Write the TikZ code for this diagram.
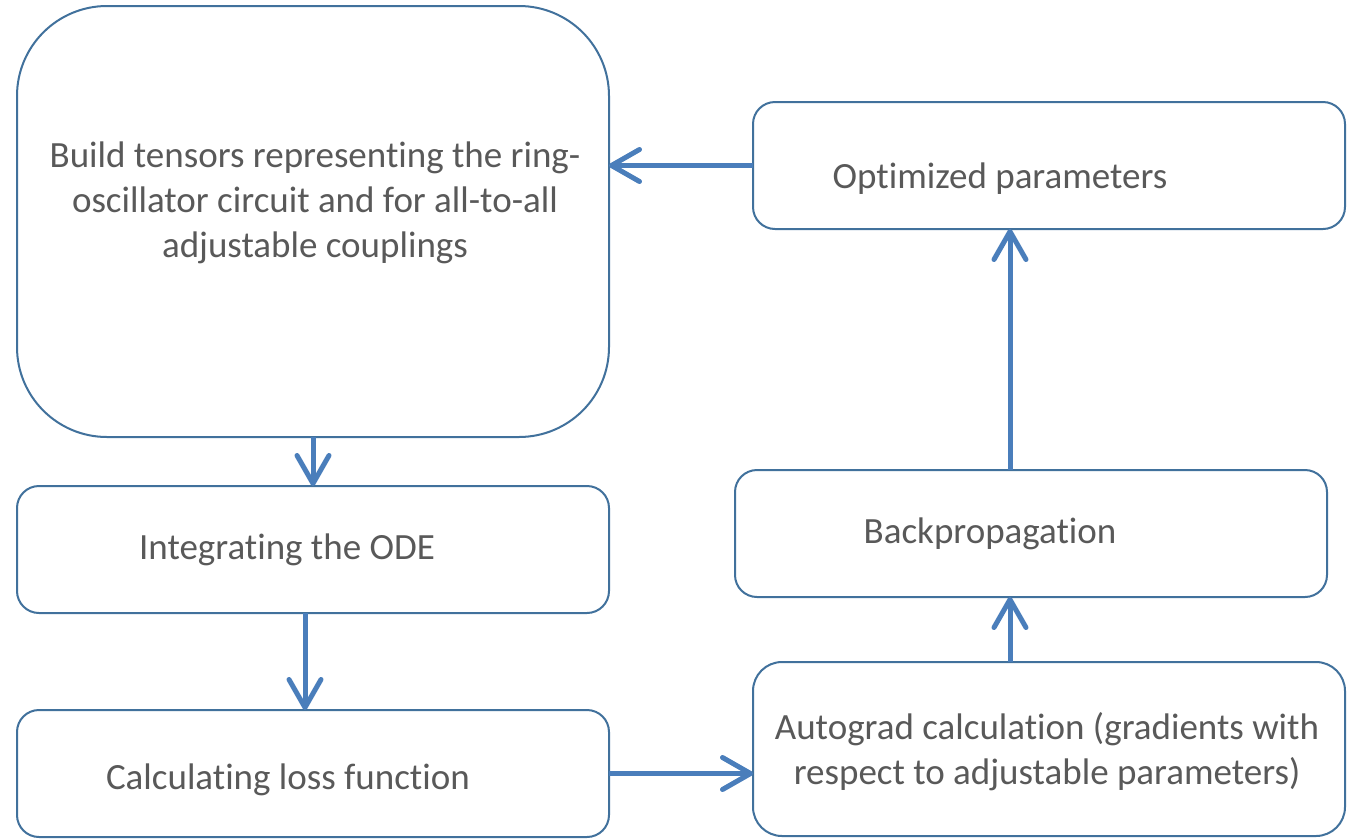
\documentclass[tikz,border=0pt]{standalone}
\usepackage{fontspec}
\setmainfont{Carlito}[Ligatures=NoCommon]
\usetikzlibrary{arrows.meta,calc}
\definecolor{boxline}{RGB}{65,113,156}
\definecolor{arrowblue}{RGB}{74,126,187}
\definecolor{txtgray}{RGB}{89,89,89}
\tikzset{
  box/.style={draw=boxline, line width=2pt, fill=white, inner sep=0pt, outer sep=0pt},
  label text/.style={text=txtgray, inner sep=0pt, align=center,
    font=\fontsize{37}{45}\selectfont},
  flow/.style={draw=arrowblue, line width=5pt,
    -{Straight Barb[length=28pt, width=32pt, round]}},
}
\begin{document}
\begin{tikzpicture}[x=1pt, y=-1pt]
\useasboundingbox (0,0) rectangle (1352,839);

% process boxes
\node[box, minimum width=592pt, minimum height=431pt, rounded corners=90pt] (build) at (313,221.5) {};
\node[box, minimum width=592pt, minimum height=127pt, rounded corners=22pt] (ode) at (313,549.5) {};
\node[box, minimum width=592pt, minimum height=127pt, rounded corners=22pt] (loss) at (313,773.5) {};
\node[box, minimum width=592pt, minimum height=127pt, rounded corners=22pt] (opt) at (1049,165.5) {};
\node[box, minimum width=592pt, minimum height=127pt, rounded corners=22pt] (backprop) at (1031,533.5) {};
\node[box, minimum width=592pt, minimum height=174pt, rounded corners=29pt] (autograd) at (1049,749) {};

% box texts
\node[label text] (buildtxt) at (315,203) {Build tensors representing the ring-\\oscillator circuit and for all-to-all\\adjustable couplings};
\node[label text, anchor=base] (odetxt) at (287,559) {Integrating the ODE};
\node[label text, anchor=base] (losstxt) at (288,789) {Calculating loss function};
\node[label text, anchor=base] (opttxt) at (1000,188) {Optimized parameters};
\node[label text, anchor=base] (backtxt) at (990,543) {Backpropagation};
\node[label text] (autotxt) at (1047,752) {Autograd calculation (gradients with\\respect to adjustable parameters)};

% flow arrows
\draw[flow] (opt.west) -- (opt.west -| build.east);
\draw[flow] (build.south) -- (ode.north);
\draw[flow] ([xshift=-8pt]ode.south) -- ([xshift=-8pt]loss.north);
\draw[flow] (loss.east) -- (loss.east -| autograd.west);
\draw[flow] ([xshift=-21pt]backprop.south |- autograd.north) -- ([xshift=-21pt]backprop.south);
\draw[flow] ([xshift=-21pt]backprop.north) -- ([xshift=-21pt]backprop.north |- opt.south);
\end{tikzpicture}
\end{document}
